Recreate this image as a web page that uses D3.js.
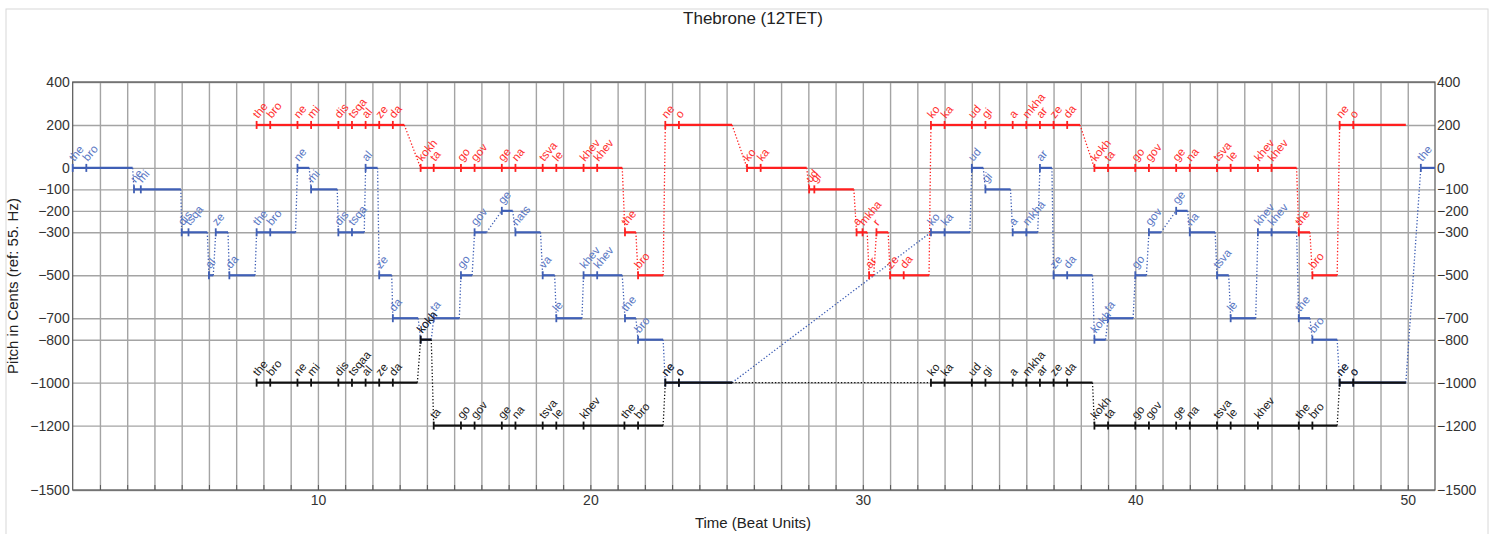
<!DOCTYPE html>
<html>
<head>
<meta charset="utf-8">
<script src="https://cdn.jsdelivr.net/npm/d3@7"></script>
<style>
  html, body { margin: 0; padding: 0; background: #fff; }
  svg { display: block; font-family: "Liberation Sans", Arial, sans-serif; }
</style>
</head>
<body>
<svg id="chart" width="1496" height="534"></svg>
<script>
// ---------- DATA ----------
const chartTitle = "Thebrone (12TET)";
const yTickValues = [400, 200, 0, -100, -200, -300, -500, -700, -800, -1000, -1200, -1500];
const xTickValues = [10, 20, 30, 40, 50];

// Upper voice (red)
const redLabels = ["the","bro","ne","mi","dis","tsqa","al","ze","da","kokh","ta","go","gov","ge","na","tsva","le","khev","khev","the","bro","ne","o","ko","ka","ud","gi","a","mkha","ar","r","ze","da","ko","ka","ud","gi","a","mkha","ar","ze","da","kokh","ta","go","gov","ge","na","tsva","le","khev","khev","the","bro","ne","o"];
const redStarts = [7.75,8.25,9.25,9.75,10.75,11.25,11.75,12.25,12.75,13.77,14.25,15.25,15.75,16.75,17.25,18.25,18.75,19.75,20.25,21.27,21.75,22.75,23.25,25.75,26.25,28.03,28.22,29.77,29.99,30.23,30.5,31.0,31.5,32.5,33.0,34.0,34.5,35.5,36.0,36.5,37.0,37.5,38.5,39.0,40.0,40.5,41.5,42.0,43.0,43.5,44.5,45.0,46.0,46.5,47.5,48.0];
const redEnds   = [8.25,9.25,9.75,10.75,11.25,11.75,12.25,12.75,13.17,14.25,15.25,15.75,16.75,17.25,18.25,18.75,19.75,20.25,21.17,21.67,22.67,23.25,25.2,26.25,27.94,28.22,29.67,29.99,30.16,30.4,30.93,31.5,32.43,33.0,34.0,34.5,35.5,36.0,36.5,37.0,37.5,37.97,39.0,40.0,40.5,41.5,42.0,43.0,43.5,44.5,45.0,45.92,46.41,47.41,48.0,49.93];
const redPitches = [200,200,200,200,200,200,200,200,200,0,0,0,0,0,0,0,0,0,0,-300,-500,200,200,0,0,-100,-100,-300,-300,-500,-300,-500,-500,200,200,200,200,200,200,200,200,200,0,0,0,0,0,0,0,0,0,0,-300,-500,200,200];

// Middle voice (blue)
const blueLabels = ["the","bro","ne","mi","dis","tsqa","al","ze","da","the","bro","ne","mi","dis","tsqa","al","ze","da","kokh","ta","go","gov","ge","nats","va","le","khev","khev","the","bro","ne","o","ko","ka","ud","gi","a","mkha","ar","ze","da","kokh","ta","go","gov","ge","na","tsva","le","khev","khev","the","bro","ne","o","the"];
const blueStarts = [1.0,1.5,3.25,3.5,5.0,5.25,6.0,6.25,6.75,7.75,8.25,9.25,9.75,10.75,11.25,11.75,12.25,12.75,13.77,14.25,15.25,15.75,16.75,17.25,18.25,18.75,19.75,20.25,21.27,21.75,22.75,23.25,32.5,33.0,34.0,34.5,35.5,36.0,36.5,37.0,37.5,38.5,39.0,40.0,40.5,41.5,42.0,43.0,43.5,44.5,45.0,46.0,46.5,47.5,48.0,50.48];
const blueEnds   = [1.5,3.2,3.5,4.97,5.25,5.94,6.16,6.7,7.69,8.25,9.18,9.68,10.71,11.25,11.7,12.19,12.71,13.68,14.16,15.19,15.66,16.19,17.15,18.17,18.69,19.69,20.25,21.17,21.67,22.67,23.25,25.2,33.0,33.93,34.42,35.42,36.0,36.42,36.94,37.5,38.43,38.91,39.92,40.41,40.94,41.92,42.93,43.43,44.42,45.0,45.92,46.41,47.41,48.0,49.93,51.0];
const bluePitches = [0,0,-100,-100,-300,-300,-500,-300,-500,-300,-300,0,-100,-300,-300,0,-500,-700,-800,-700,-500,-300,-200,-300,-500,-700,-500,-500,-700,-800,-1000,-1000,-300,-300,0,-100,-300,-300,0,-500,-500,-800,-700,-500,-300,-200,-300,-500,-700,-300,-300,-700,-800,-1000,-1000,0];

// Lower voice (black)
const blackLabels = ["the","bro","ne","mi","dis","tsqaa","al","ze","da","kokh","ta","go","gov","ge","na","tsva","le","khev","the","bro","ne","o","ko","ka","ud","gi","a","mkha","ar","ze","da","kokh","ta","go","gov","ge","na","tsva","le","khev","the","bro","ne","o"];
const blackStarts = [7.75,8.25,9.25,9.75,10.75,11.25,11.75,12.25,12.75,13.77,14.25,15.25,15.75,16.75,17.25,18.25,18.75,19.75,21.25,21.75,22.75,23.25,32.5,33.0,34.0,34.5,35.5,36.0,36.5,37.0,37.5,38.5,39.0,40.0,40.5,41.5,42.0,43.0,43.5,44.5,46.0,46.5,47.5,48.0];
const blackEnds   = [8.25,9.25,9.75,10.75,11.25,11.75,12.25,12.75,13.65,14.16,15.25,15.75,16.75,17.25,18.25,18.75,19.75,21.25,21.75,22.67,23.25,25.2,33.0,34.0,34.5,35.5,36.0,36.5,37.0,37.5,38.43,39.0,40.0,40.5,41.5,42.0,43.0,43.5,44.5,46.0,46.5,47.41,48.0,49.93];
const blackPitches = [-1000,-1000,-1000,-1000,-1000,-1000,-1000,-1000,-1000,-800,-1200,-1200,-1200,-1200,-1200,-1200,-1200,-1200,-1200,-1200,-1000,-1000,-1000,-1000,-1000,-1000,-1000,-1000,-1000,-1000,-1000,-1200,-1200,-1200,-1200,-1200,-1200,-1200,-1200,-1200,-1200,-1200,-1000,-1000];

// ---------- LAYOUT ----------
const svg = d3.select("#chart");
const L = 72.7, R = 1435, T = 82, B = 490;

const x = d3.scaleLinear().domain([1, 51]).range([L, R]);
const y = d3.scaleLinear().domain([-1500, 400]).range([B, T]);

// panel border
svg.append("rect").attr("x", 6).attr("y", 9).attr("width", 1482).attr("height", 540)
  .attr("fill", "#fff").attr("stroke", "#d8d8d8").attr("stroke-width", 1);

// title
svg.append("text").attr("x", 753).attr("y", 24).attr("text-anchor", "middle")
  .attr("font-size", 17).attr("fill", "#222").text(chartTitle);

// grid
const gGrid = svg.append("g");
gGrid.append("g").attr("transform", `translate(0,${B})`)
  .call(d3.axisBottom(x).tickValues(d3.range(2, 51)).tickSize(-(B - T)).tickFormat(""))
  .call(g => g.select(".domain").remove())
  .call(g => g.selectAll("line").attr("stroke", "#a4a4a4").attr("stroke-width", 1.4));
gGrid.append("g").attr("transform", `translate(${L},0)`)
  .call(d3.axisLeft(y).tickValues(yTickValues).tickSize(-(R - L)).tickFormat(""))
  .call(g => g.select(".domain").remove())
  .call(g => g.selectAll("line").attr("stroke", "#a4a4a4").attr("stroke-width", 1.4));

// frame
svg.append("rect").attr("x", L).attr("y", T).attr("width", R - L).attr("height", B - T)
  .attr("fill", "none").attr("stroke", "#555").attr("stroke-width", 1.2);

// small inward ticks on bottom axis
svg.append("g").attr("transform", `translate(0,${B})`)
  .call(d3.axisBottom(x).tickValues(d3.range(2, 51)).tickSize(-5).tickFormat(""))
  .call(g => g.select(".domain").remove())
  .call(g => g.selectAll("line").attr("stroke", "#555"));

// axis labels
const fmt = d3.format("d");
const tickFont = g => g.selectAll("text").attr("font-size", 14).attr("fill", "#333")
  .attr("font-family", "Liberation Sans, Arial, sans-serif");
svg.append("g").attr("transform", `translate(0,${B})`)
  .call(d3.axisBottom(x).tickValues(xTickValues).tickSize(0).tickPadding(5).tickFormat(fmt))
  .call(g => g.select(".domain").remove())
  .call(tickFont);
svg.append("g").attr("transform", `translate(${L},0)`)
  .call(d3.axisLeft(y).tickValues(yTickValues).tickSize(0).tickPadding(3).tickFormat(fmt))
  .call(g => g.select(".domain").remove())
  .call(tickFont);
svg.append("g").attr("transform", `translate(${R},0)`)
  .call(d3.axisRight(y).tickValues(yTickValues).tickSize(0).tickPadding(2).tickFormat(fmt))
  .call(g => g.select(".domain").remove())
  .call(tickFont);

svg.append("text").attr("x", 753).attr("y", 528).attr("text-anchor", "middle")
  .attr("font-size", 15).attr("fill", "#222").text("Time (Beat Units)");
svg.append("text").attr("transform", `translate(18,${(T + B) / 2}) rotate(-90)`)
  .attr("text-anchor", "middle").attr("font-size", 15).attr("fill", "#222")
  .text("Pitch in Cents (ref: 55. Hz)");

// ---------- VOICES ----------
function drawVoice(labels, starts, ends, pitches, lineColor, textColor) {
  const g = svg.append("g");
  const notes = labels.map((l, i) => ({ l, s: starts[i], e: ends[i], p: pitches[i] }));
  const links = [];
  for (let i = 0; i < notes.length - 1; i++) {
    const a = notes[i], b = notes[i + 1];
    if (a.p !== b.p || b.s - a.e > 1e-6) links.push([a, b]);
  }
  g.selectAll("line.link").data(links).join("line").attr("class", "link")
    .attr("x1", d => x(d[0].e)).attr("y1", d => y(d[0].p))
    .attr("x2", d => x(d[1].s)).attr("y2", d => y(d[1].p))
    .attr("stroke", lineColor).attr("stroke-width", 1.3).attr("stroke-dasharray", "1.3,2");
  g.selectAll("line.note").data(notes).join("line").attr("class", "note")
    .attr("x1", d => x(d.s)).attr("y1", d => y(d.p))
    .attr("x2", d => x(d.e)).attr("y2", d => y(d.p))
    .attr("stroke", lineColor).attr("stroke-width", 2.2);
  g.selectAll("line.tick").data(notes).join("line").attr("class", "tick")
    .attr("x1", d => x(d.s)).attr("y1", d => y(d.p) - 4)
    .attr("x2", d => x(d.s)).attr("y2", d => y(d.p) + 4)
    .attr("stroke", lineColor).attr("stroke-width", 1.8);
  g.selectAll("text").data(notes).join("text")
    .attr("transform", d => `translate(${x(d.s) + 1.5},${y(d.p) - 6}) rotate(-50)`)
    .attr("font-size", 11.5).attr("fill", textColor).text(d => d.l);
}

drawVoice(blueLabels, blueStarts, blueEnds, bluePitches, "#3f5fb5", "#5a78c4");
drawVoice(redLabels, redStarts, redEnds, redPitches, "#ff1f1f", "#ff3030");
drawVoice(blackLabels, blackStarts, blackEnds, blackPitches, "#111", "#222");
</script>
</body>
</html>
